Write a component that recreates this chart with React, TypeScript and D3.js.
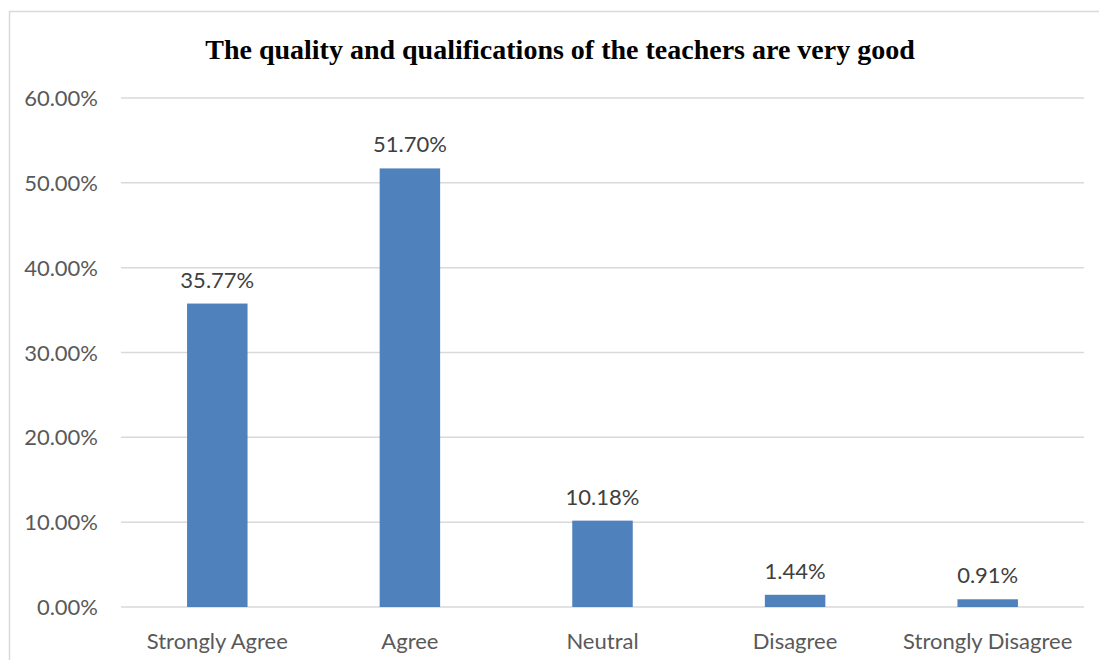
import React from "react";
import * as d3 from "d3";

const categories = ["Strongly Agree", "Agree", "Neutral", "Disagree", "Strongly Disagree"];
const values = [0.3577, 0.517, 0.1018, 0.0144, 0.0091];
const yTicks = [0, 0.1, 0.2, 0.3, 0.4, 0.5, 0.6];
const title = "The quality and qualifications of the teachers are very good";

const W = 1099;
const H = 660;
const FONT = "Lato, 'Open Sans', sans-serif";

export default function App() {
  const x = d3.scaleBand<string>().domain(categories).range([121, 1084]).paddingInner(0.686).paddingOuter(0.343);
  const y = d3.scaleLinear().domain([0, 0.6]).range([607, 98]);
  const fmt = (v: number) => (v * 100).toFixed(2) + "%";

  return (
    <svg width={W} height={H} style={{ position: "absolute", left: 0, top: 0, background: "#fff" }}>
      <rect x={9.5} y={11.5} width={1200} height={800} fill="#fff" stroke="#d9d9d9" strokeWidth={1.5} />
      <text x={560} y={59} textAnchor="middle" fontFamily="'Liberation Serif', 'Times New Roman', serif" fontWeight="bold" fontSize={28} fill="#000">
        {title}
      </text>
      {yTicks.map((t) => (
        <g key={t}>
          <line x1={121} x2={1084} y1={y(t)} y2={y(t)} stroke="#d9d9d9" strokeWidth={1.5} />
          <text x={98} y={y(t) + 8} textAnchor="end" fontFamily={FONT} fontSize={22} fill="#595959">
            {fmt(t)}
          </text>
        </g>
      ))}
      {categories.map((c, i) => {
        const bx = x(c)!;
        const bw = x.bandwidth();
        return (
          <g key={c}>
            <rect x={bx} y={y(values[i])} width={bw} height={y(0) - y(values[i])} fill="#4f81bd" />
            <text x={bx + bw / 2} y={y(values[i]) - 16} textAnchor="middle" fontFamily={FONT} fontSize={22} fill="#404040">
              {fmt(values[i])}
            </text>
            <text x={bx + bw / 2} y={649} textAnchor="middle" fontFamily={FONT} fontSize={22} fill="#595959">
              {c}
            </text>
          </g>
        );
      })}
    </svg>
  );
}
